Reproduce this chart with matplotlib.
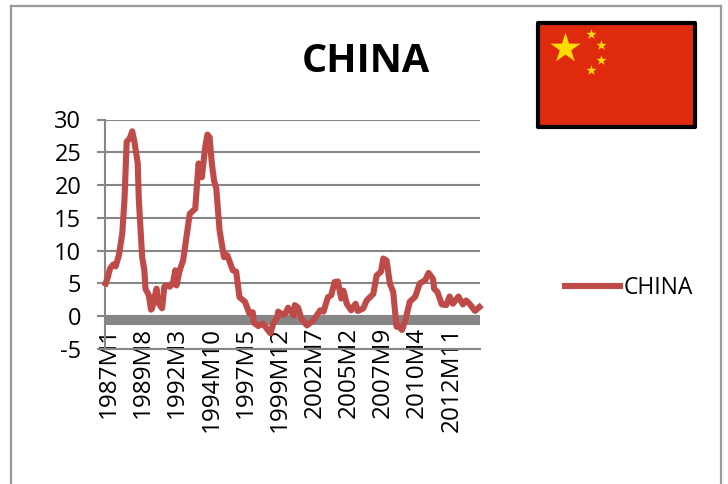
import matplotlib
matplotlib.use('Agg')
import matplotlib.pyplot as plt
from matplotlib.patches import Rectangle
from matplotlib.transforms import ScaledTranslation

W, H = 728, 484

# months since 1987M1 and the series value at that month
months = [0, 2, 4, 7, 9, 12, 15, 17, 19, 22, 24, 26, 29, 30, 33, 35, 36, 39, 41, 42,
          46, 47, 51, 53, 55, 58, 61, 63, 64, 67, 70, 73, 76, 81, 84, 87, 90, 92, 94, 96,
          98, 100, 103, 107, 110, 115, 118, 121, 126, 130, 133, 134, 138, 142, 149, 152, 155, 156, 160, 162,
          165, 170, 171, 174, 177, 182, 188, 194, 197, 201, 204, 207, 210, 213, 215, 218, 222, 226, 228, 233,
          236, 242, 245, 249, 251, 254, 257, 260, 263, 265, 268, 271, 275, 280, 284, 289, 292, 296, 297, 300,
          304, 308, 311, 314, 319, 323, 326, 329, 334, 338]
china = [5, 6, 7.3, 7.9, 7.6, 9.3, 12.6, 17.7, 26.6, 27.2, 28.2, 26.6, 23.3, 17.7, 9, 7, 4.2, 3.2, 1, 1.2,
         4.2, 2.2, 1.2, 4.5, 4.7, 4.5, 5.2, 7, 4.7, 7, 8.5, 12, 15.6, 16.4, 23.3, 21.2, 25.8, 27.7, 27.3, 23.3,
         20.7, 19.5, 13.1, 9, 9.3, 7, 6.8, 2.9, 2.2, 0.4, 0.6, -1, -1.5, -1.1, -2.6, -0.9, -0.3, 0.7, 0.2, 0.3,
         1.3, 0.1, 1.7, 1.3, -0.4, -1.4, -0.6, 0.9, 0.7, 2.9, 3.2, 5.2, 5.3, 2.7, 3.9, 1.9, 0.9, 1.9, 0.8, 1.2,
         2.4, 3.4, 6.2, 6.8, 8.8, 8.5, 5, 3.7, -1.6, -1.5, -2.1, -0.6, 2.2, 3, 5, 5.5, 6.6, 5.7, 4.2, 3.7,
         1.8, 1.7, 3, 1.9, 3, 1.8, 2.4, 1.9, 0.8, 1.4]

tick_months = [0, 31, 62, 93, 124, 155, 186, 217, 248, 279, 310]
tick_labels = ['1987M1', '1989M8', '1992M3', '1994M10', '1997M5', '1999M12',
               '2002M7', '2005M2', '2007M9', '2010M4', '2012M11']
y_ticks = [-5, 0, 5, 10, 15, 20, 25, 30]

line_col = '#BE4B48'
grid_col = '#868686'
txt_font = ['Open Sans', 'DejaVu Sans']


def px_axes(x0, y0, x1, y1):
    # axes placed with pixel edges, y counted from the top
    return [x0 / W, 1 - y1 / H, (x1 - x0) / W, (y1 - y0) / H]


fig = plt.figure(figsize=(W / 100, H / 100), dpi=100)

# chart frame, open at the bottom
fig.add_artist(plt.Line2D([10.5 / W, 10.5 / W], [0, 1 - 5.5 / H], color='#9a9a9a', lw=1.6))
fig.add_artist(plt.Line2D([10.5 / W, 720.5 / W], [1 - 5.5 / H, 1 - 5.5 / H], color='#9a9a9a', lw=1.6))
fig.add_artist(plt.Line2D([720.5 / W, 720.5 / W], [1 - 5.5 / H, 0], color='#9a9a9a', lw=1.6))

ax = fig.add_axes(px_axes(105, 119.5, 480, 349))
ax.set_xlim(-0.6, 338.5)
ax.set_ylim(-5, 30)
ax.axhspan(-1.4, 0, color=grid_col, lw=0, zorder=1)
ax.plot(months, china, color=line_col, lw=4.4, solid_joinstyle='round', zorder=3,
        clip_on=False, label='CHINA')

ax.set_yticks(y_ticks)
ax.set_xticks(tick_months)
ax.set_xticklabels(tick_labels, rotation=90, family=txt_font, fontsize=17.5, color='black')
ax.set_yticklabels([str(v) for v in y_ticks], family=txt_font, fontsize=17, color='black')
ax.tick_params(axis='x', length=0, pad=-16)
ax.tick_params(axis='y', length=6, width=1.5, color=grid_col, pad=11)
ax.grid(axis='y', color=grid_col, lw=1.5, zorder=2)
ax.set_axisbelow(True)
for side in ['top', 'right']:
    ax.spines[side].set_visible(False)
for side in ['left', 'bottom']:
    ax.spines[side].set_color(grid_col)
    ax.spines[side].set_linewidth(1.5)
# nudge the rotated labels to the right of their tick positions
nudge = ScaledTranslation(3 / 100, 0, fig.dpi_scale_trans)
for lab in ax.get_xticklabels():
    lab.set_verticalalignment('top')
    lab.set_zorder(5)
    lab.set_transform(lab.get_transform() + nudge)

fig.text(366 / W, 1 - 61.5 / H, 'CHINA', family=txt_font, fontsize=28.5, fontweight='bold',
         ha='center', va='center')

ax.legend(loc='center left', bbox_to_anchor=(565 / W, 1 - 288.5 / H), bbox_transform=fig.transFigure,
          frameon=False, prop={'family': txt_font, 'size': 16.5}, handlelength=2.4, handletextpad=0.15,
          borderpad=0, borderaxespad=0)

# flag drawn in its own pixel-scaled axes
flag = fig.add_axes([0, 0, 1, 1], facecolor='none')
flag.set_xlim(0, W)
flag.set_ylim(H, 0)
flag.axis('off')
flag.add_patch(Rectangle((538, 23), 157, 104, facecolor='#E02A0E', edgecolor='black', lw=3,
                         joinstyle='round'))
flag.scatter([565], [48], marker='*', s=520, color='#FFDD00', linewidths=0)
flag.scatter([590.5, 600.5, 600.5, 590.5], [34, 44.5, 59.5, 70], marker='*', s=60,
             color='#FFDD00', linewidths=0)

fig.savefig('out.png', dpi=100)
